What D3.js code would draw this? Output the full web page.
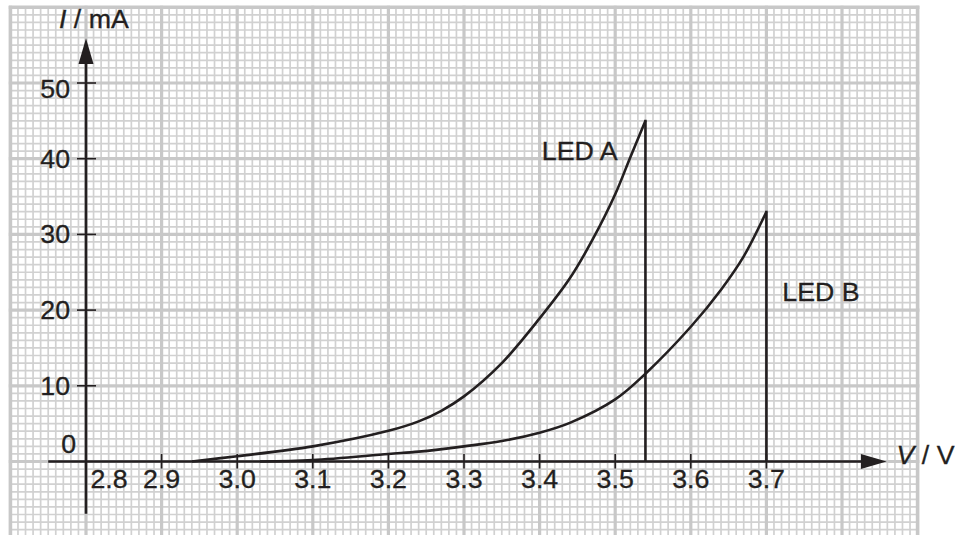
<!DOCTYPE html>
<html>
<head>
<meta charset="utf-8">
<script src="https://cdn.jsdelivr.net/npm/d3@7"></script>
<style>
  html, body { margin: 0; padding: 0; background: #ffffff; }
  svg { display: block; }
  text { font-family: "Liberation Sans", Arial, Helvetica, sans-serif; fill: #231f20; stroke: #231f20; stroke-width: 0.3; }
</style>
</head>
<body>
<svg id="chart" width="955" height="535"></svg>
<script>
// Axis ticks and their labels
const voltageTicks = [2.9, 3.0, 3.1, 3.2, 3.3, 3.4, 3.5, 3.6, 3.7];
const voltageTickLabels = ["2.9", "3.0", "3.1", "3.2", "3.3", "3.4", "3.5", "3.6", "3.7"];
const currentTicks = [10, 20, 30, 40, 50];
const currentTickLabels = ["10", "20", "30", "40", "50"];

// LED A characteristic: voltage (V) and current (mA)
const ledAVoltage = [2.94, 3.00, 3.10, 3.20, 3.24, 3.27, 3.30, 3.35, 3.40, 3.44, 3.47, 3.50, 3.52, 3.54];
const ledACurrent = [0.0, 0.7, 2.0, 4.05, 5.3, 6.7, 8.6, 13.0, 18.9, 24.2, 29.3, 35.3, 40.2, 45.0];

// LED B characteristic: voltage (V) and current (mA)
const ledBVoltage = [3.03, 3.10, 3.20, 3.24, 3.30, 3.35, 3.40, 3.44, 3.50, 3.54, 3.60, 3.64, 3.67, 3.70];
const ledBCurrent = [0.0, 0.2, 1.0, 1.3, 2.0, 2.7, 3.8, 5.1, 8.2, 11.6, 17.8, 22.7, 27.1, 33.0];

const svg = d3.select("#chart");
const H = 535;

// Square graph-paper scales: one major square is 0.1 V by 10 mA
const x = d3.scaleLinear().domain([2.7, 3.9]).range([10.4, 917.6]);
const y = d3.scaleLinear().domain([0, 60]).range([461.5, 7.3]);

const ink = "#231f20";
const fontSize = 25;
const stretch = 1.07;

// text placed at (px, py), slightly widened like the printed lettering
function label(parent, px, py, anchor) {
  return parent.append("text")
    .attr("transform", `translate(${px},${py}) scale(${stretch},1)`)
    .attr("text-anchor", anchor || "start")
    .attr("font-size", fontSize);
}

// ---- graph paper ----
const paper = svg.append("g");
const minorV = d3.range(0, 121).map(i => 2.7 + i * 0.01);
const minorI = d3.range(-10, 61);

paper.selectAll("line.minor-v").data(minorV.filter((d, i) => i % 10 !== 0))
  .join("line")
  .attr("x1", d => x(d)).attr("x2", d => x(d))
  .attr("y1", y(60)).attr("y2", H)
  .attr("stroke", "#d1d1d1").attr("stroke-width", 1.7);

paper.selectAll("line.minor-h").data(minorI.filter(d => d % 10 !== 0))
  .join("line")
  .attr("x1", x(2.7)).attr("x2", x(3.9))
  .attr("y1", d => y(d)).attr("y2", d => y(d))
  .attr("stroke", "#d1d1d1").attr("stroke-width", 1.7);

paper.selectAll("line.major-v").data(minorV.filter((d, i) => i % 10 === 0))
  .join("line")
  .attr("x1", d => x(d)).attr("x2", d => x(d))
  .attr("y1", y(60) - 1.5).attr("y2", H)
  .attr("stroke", "#c8c8c8")
  .attr("stroke-width", (d, i, n) => (i === 0 || i === n.length - 1) ? 3.6 : 3.2);

paper.selectAll("line.major-h").data(minorI.filter(d => d % 10 === 0))
  .join("line")
  .attr("x1", x(2.7) - 1.6).attr("x2", x(3.9) + 1.8)
  .attr("y1", d => y(d)).attr("y2", d => y(d))
  .attr("stroke", "#c8c8c8")
  .attr("stroke-width", d => d === 60 ? 3.6 : 3.2);

// ---- axes ----
const axes = svg.append("g");
const x0 = x(2.8);

// vertical axis with arrow
axes.append("line")
  .attr("x1", x0).attr("x2", x0)
  .attr("y1", y(-6.9)).attr("y2", y(52.5))
  .attr("stroke", ink).attr("stroke-width", 2.6);
axes.append("path")
  .attr("d", `M${x0},${y(55.9)} L${x0 - 7.5},${y(52.5)} L${x0 + 7.5},${y(52.5)} Z`)
  .attr("fill", ink);

// horizontal axis with arrow
axes.append("line")
  .attr("x1", x(2.75)).attr("x2", x(3.83))
  .attr("y1", y(0)).attr("y2", y(0))
  .attr("stroke", ink).attr("stroke-width", 2.6);
axes.append("path")
  .attr("d", `M${x(3.859)},${y(0)} L${x(3.825)},${y(0) - 7.5} L${x(3.825)},${y(0) + 7.5} Z`)
  .attr("fill", ink);

// voltage ticks and labels
axes.selectAll("line.vtick").data(voltageTicks).join("line")
  .attr("x1", d => x(d)).attr("x2", d => x(d))
  .attr("y1", y(0) - 7.5).attr("y2", y(0) + 7)
  .attr("stroke", ink).attr("stroke-width", 1.6);
voltageTicks.forEach((d, i) => {
  label(axes, x(d), y(0) + 26.5, "middle").text(voltageTickLabels[i]);
});
label(axes, x0 + 23, y(0) + 26.5, "middle").text("2.8");

// current ticks and labels
axes.selectAll("line.itick").data(currentTicks).join("line")
  .attr("x1", x0 - 9).attr("x2", x0 + 10)
  .attr("y1", d => y(d)).attr("y2", d => y(d))
  .attr("stroke", ink).attr("stroke-width", 1.6);
currentTicks.forEach((d, i) => {
  label(axes, x0 - 16, y(d) + (d === 50 ? 14.5 : 9), "end").text(currentTickLabels[i]);
});
label(axes, x0 - 10, y(0) - 8.8, "end").text("0");

// axis titles
const iTitle = label(axes, x0 - 27, 28);
iTitle.append("tspan").attr("font-style", "italic").text("I");
iTitle.append("tspan").text(" / mA");

const vTitle = label(axes, x(3.859) + 10, y(0) + 2);
vTitle.append("tspan").attr("font-style", "italic").text("V");
vTitle.append("tspan").text(" / V");

// ---- characteristic curves ----
const curves = svg.append("g");
const line = d3.line().x(d => x(d[0])).y(d => y(d[1])).curve(d3.curveCatmullRom.alpha(0.5));

function drawLed(volts, amps, name, lx, ly) {
  const pts = volts.map((v, i) => [v, amps[i]]);
  curves.append("path")
    .attr("d", line(pts))
    .attr("fill", "none").attr("stroke", ink).attr("stroke-width", 2.6)
    .attr("stroke-linejoin", "round");
  const last = pts[pts.length - 1];
  curves.append("line")
    .attr("x1", x(last[0])).attr("x2", x(last[0]))
    .attr("y1", y(last[1]) - 1).attr("y2", y(0))
    .attr("stroke", ink).attr("stroke-width", 2.6);
  label(curves, lx, ly).text(name);
}

drawLed(ledAVoltage, ledACurrent, "LED A", x(3.403), y(40.0) + 1);
drawLed(ledBVoltage, ledBCurrent, "LED B", x(3.721), y(21.2));
</script>
</body>
</html>
